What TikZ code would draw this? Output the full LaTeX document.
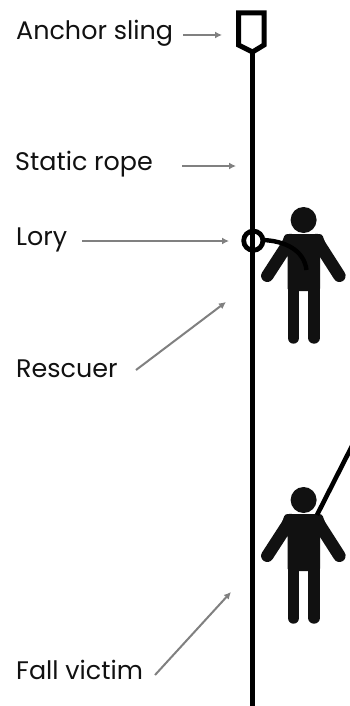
\documentclass[tikz,border=0pt]{standalone}
\usepackage{fontspec}
\setmainfont{Poppins}
\usetikzlibrary{arrows.meta}
\definecolor{ink}{HTML}{111111}
\definecolor{pointer}{HTML}{808080}
\tikzset{
  lab/.style={anchor=west,inner sep=0pt,font=\fontsize{25.4}{28}\selectfont,text=ink},
  pointerline/.style={draw=pointer,line width=2pt,-{Latex[length=7pt,width=7pt]}},
  ropeline/.style={draw=black,line width=5.3pt},
  figure/.pic={
    \fill[ink] (303.6,220) circle (13);
    \fill[ink,rounded corners=2.5pt] (285,234) -- (322,234) -- (326,245) -- (320,255) -- (320,291) -- (287.6,291) -- (287.6,255) -- (281,245) -- cycle;
    \draw[ink,line width=12.4pt,line cap=round] (290.5,240) -- (267.3,275.8);
    \draw[ink,line width=12.4pt,line cap=round] (316.5,240) -- (339.4,275.8);
    \draw[ink,line width=11.8pt,line cap=round] (293.5,280) -- (293.5,337.8);
    \draw[ink,line width=11.8pt,line cap=round] (314.1,280) -- (314.1,337.8);
  }
}
\begin{document}
\begin{tikzpicture}[x=1pt,y=-1pt]
\useasboundingbox (0,0) rectangle (350,706);
\fill[white] (0,0) rectangle (350,706);
\node[lab] (anchorlab) at (16,33.5) {Anchor sling};
\node[lab] (staticlab) at (15,164) {Static rope};
\node[lab] (lorylab) at (16,239.5) {Lory};
\node[lab] (rescuerlab) at (16,369) {Rescuer};
\node[lab] (victimlab) at (16,670) {Fall victim};
\coordinate (slingtip) at (252.5,52);
\coordinate (ropeend) at (252.5,706);
\coordinate (lory) at (253.3,240.7);
\pic at (0,0) {figure};
\pic at (0,280) {figure};
\draw[black,line width=5pt,miter limit=4] (238.5,13) -- (264,13) -- (264,45) -- (slingtip) -- (238.5,45) -- cycle;
\draw[ropeline] (slingtip) -- (ropeend);
\draw[black,line width=4.8pt] (lory) circle (9.6);
\draw[black,line width=4.4pt] (263,240) .. controls (285,241) and (304,250) .. (306.5,270);
\coordinate (victimtie) at (317,515);
\coordinate (victimfree) at (352,446);
\draw[black,line width=4.6pt] (victimtie) -- (victimfree);
\coordinate (a1) at (222,35);
\coordinate (a2) at (236,166);
\coordinate (a3) at (229,241);
\coordinate (a4) at (226,302);
\coordinate (a5) at (231,592);
\coordinate (s1) at (183,35);
\coordinate (s2) at (182,166);
\coordinate (s3) at (82,241);
\coordinate (s4) at (136,370);
\coordinate (s5) at (155,675);
\draw[pointerline] (s1) -- (a1);
\draw[pointerline] (s2) -- (a2);
\draw[pointerline] (s3) -- (a3);
\draw[pointerline] (s4) -- (a4);
\draw[pointerline] (s5) -- (a5);
\end{tikzpicture}
\end{document}
